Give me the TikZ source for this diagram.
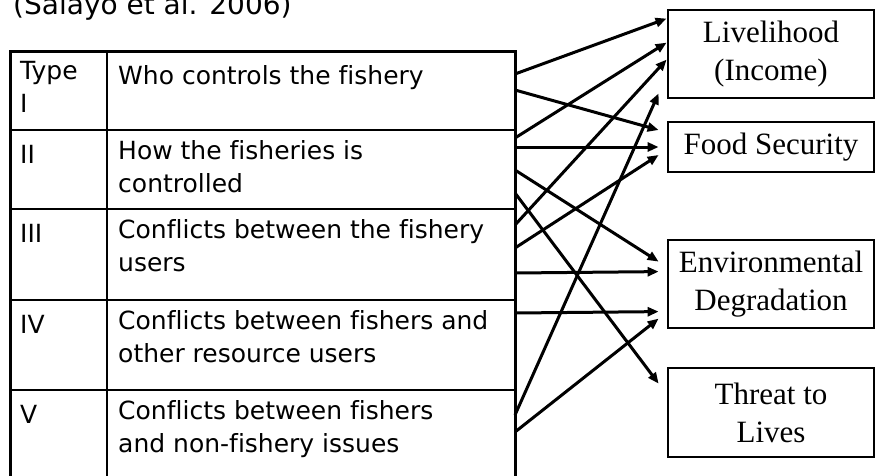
\documentclass[tikz,border=0pt]{standalone}
\usepackage{fontspec}
\setmainfont{Liberation Serif}
\newfontfamily\tablefont[Ligatures=NoCommon]{DejaVu Sans}
\usetikzlibrary{positioning,calc,arrows.meta}

\begin{document}
\begin{tikzpicture}[x=1pt, y=-1pt,
    cell/.style={rectangle, draw, line width=1.4pt, outer sep=0pt, inner sep=0pt},
    celltext/.style={anchor=north west, align=left, inner sep=0pt, font=\tablefont\fontsize{25}{33}\selectfont, execute at begin node=\strut},
    outcome/.style={rectangle, draw, line width=2.8pt, align=center, minimum width=206pt, font=\fontsize{31}{38}\selectfont},
    link/.style={-{Triangle[length=11pt,width=9pt]}, line width=3pt}]

    \useasboundingbox (0,0) rectangle (876,475);

    % Source
    \node[anchor=base west, inner sep=0pt, font=\tablefont\fontsize{28}{34}\selectfont] (source) at (13,14) {(Salayo et al. 2006)};

    %-----Table-----
    % Type I row
    \node[cell, minimum width=97pt, minimum height=79pt, anchor=north west] (typeI) at (10,51) {};
    \node[cell, minimum width=408pt, minimum height=79pt, right=0pt of typeI] (descI) {};
    \node[celltext] (ttypeI) at ([shift={(10pt,-10pt)}]typeI.north west) {Type\\I};
    \node[celltext] (tdescI) at ([shift={(11pt,-10pt)}]descI.north west) {Who controls the fishery};

    % Type II row
    \node[cell, minimum width=97pt, minimum height=79pt, below=0pt of typeI] (typeII) {};
    \node[cell, minimum width=408pt, minimum height=79pt, below=0pt of descI] (descII) {};
    \node[celltext] (ttypeII) at ([shift={(10pt,-10pt)}]typeII.north west) {II};
    \node[celltext] (tdescII) at ([shift={(11pt,-10pt)}]descII.north west) {How the fisheries is\\controlled};

    % Type III row
    \node[cell, minimum width=97pt, minimum height=91pt, below=0pt of typeII] (typeIII) {};
    \node[cell, minimum width=408pt, minimum height=91pt, below=0pt of descII] (descIII) {};
    \node[celltext] (ttypeIII) at ([shift={(10pt,-10pt)}]typeIII.north west) {III};
    \node[celltext] (tdescIII) at ([shift={(11pt,-10pt)}]descIII.north west) {Conflicts between the fishery\\users};

    % Type IV row
    \node[cell, minimum width=97pt, minimum height=90pt, below=0pt of typeIII] (typeIV) {};
    \node[cell, minimum width=408pt, minimum height=90pt, below=0pt of descIII] (descIV) {};
    \node[celltext] (ttypeIV) at ([shift={(10pt,-10pt)}]typeIV.north west) {IV};
    \node[celltext] (tdescIV) at ([shift={(11pt,-10pt)}]descIV.north west) {Conflicts between fishers and\\other resource users};

    % Type V row
    \node[cell, minimum width=97pt, minimum height=90pt, below=0pt of typeIV] (typeV) {};
    \node[cell, minimum width=408pt, minimum height=90pt, below=0pt of descIV] (descV) {};
    \node[celltext] (ttypeV) at ([shift={(10pt,-10pt)}]typeV.north west) {V};
    \node[celltext] (tdescV) at ([shift={(11pt,-10pt)}]descV.north west) {Conflicts between fishers\\and non-fishery issues};

    % Table frame
    \draw[line width=3pt] (typeI.north west) rectangle (descV.south east);

    %-----Outcomes-----
    \node[outcome, minimum height=88pt] (liveli) at (771,54) {Livelihood\\(Income)};
    \node[outcome, minimum height=50pt] (food) at (771,147) {Food Security};
    \node[outcome, minimum height=88pt] (environ) at (771,284) {Environmental\\Degradation};
    \node[outcome, minimum height=89pt] (threat) at (771,412.5) {Threat to\\Lives};

    %-----Links-----
    % Type I
    \draw[link] ([yshift=-23pt]descI.north east) -- ([yshift=-10pt]liveli.north west);
    \draw[link] ([yshift=-39pt]descI.north east) -- ([shift={(-8pt,17pt)}]food.west);
    % Type II
    \draw[link] ([yshift=-8pt]descII.north east) -- ([yshift=-34pt]liveli.north west);
    \draw[link] ([yshift=-17pt]descII.north east) -- ([xshift=-8pt]food.west);
    \draw[link] ([yshift=-40pt]descII.north east) -- ([shift={(-8pt,-23pt)}]environ.north west);
    \draw[link] ([yshift=-63pt]descII.north east) -- ([shift={(-8pt,-17pt)}]threat.north west);
    % Type III
    \draw[link] ([yshift=-16pt]descIII.north east) -- ([yshift=-51pt]liveli.north west);
    \draw[link] ([yshift=-39pt]descIII.north east) -- ([shift={(-8pt,-8pt)}]food.west);
    \draw[link] ([yshift=-64pt]descIII.north east) -- ([shift={(-8pt,-33pt)}]environ.north west);
    % Type IV
    \draw[link] ([yshift=-13pt]descIV.north east) -- ([shift={(-8pt,-73pt)}]environ.north west);
    % Type V
    \draw[link] ([yshift=-25pt]descV.north east) -- ([shift={(-8pt,6pt)}]liveli.south west);
    \draw[link] ([yshift=-42pt]descV.north east) -- ([shift={(-8pt,-80pt)}]environ.north west);

\end{tikzpicture}
\end{document}
